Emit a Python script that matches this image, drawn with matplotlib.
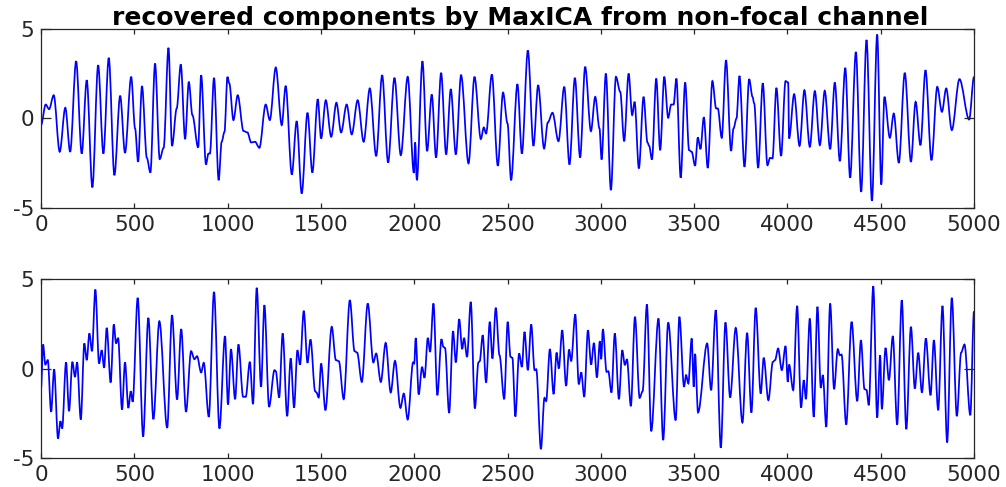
import matplotlib
matplotlib.use("Agg")
import matplotlib.pyplot as plt
from matplotlib.path import Path
from matplotlib.patches import PathPatch

plt.rcParams["axes.unicode_minus"] = False

# peaks / troughs of the two recovered components (sample index, amplitude)
top_x = [0, 25, 43, 68, 100, 130, 156, 188, 218, 245,
         275, 306, 334, 363, 393, 424, 450, 483, 504, 520,
         541, 567, 586, 611, 636, 657, 683, 702, 727, 749,
         772, 792, 811, 842, 858, 884, 897, 905, 927, 952,
         968, 983, 999, 1009, 1031, 1054, 1085, 1106, 1126, 1147,
         1170, 1204, 1226, 1258, 1290, 1311, 1344, 1370, 1397, 1428,
         1454, 1483, 1501, 1526, 1555, 1583, 1608, 1638, 1665, 1697,
         1729, 1762, 1796, 1828, 1860, 1894, 1928, 1965, 1998, 2005,
         2014, 2044, 2069, 2094, 2117, 2144, 2171, 2196, 2223, 2251,
         2291, 2323, 2357, 2373, 2385, 2416, 2448, 2476, 2500, 2519,
         2553, 2577, 2609, 2639, 2664, 2696, 2716, 2741, 2773, 2804,
         2832, 2861, 2889, 2916, 2947, 2970, 2993, 3004, 3027, 3054,
         3081, 3104, 3125, 3149, 3168, 3181, 3204, 3229, 3250, 3259,
         3274, 3297, 3318, 3340, 3361, 3377, 3390, 3405, 3428, 3452,
         3473, 3487, 3505, 3520, 3534, 3552, 3573, 3598, 3618, 3627,
         3648, 3671, 3698, 3711, 3727, 3743, 3770, 3795, 3813, 3822,
         3843, 3868, 3893, 3907, 3920, 3941, 3966, 3990, 4004, 4009,
         4036, 4065, 4091, 4120, 4147, 4174, 4200, 4229, 4254, 4281,
         4310, 4336, 4367, 4395, 4424, 4453, 4481, 4503, 4520, 4549,
         4570, 4597, 4629, 4662, 4687, 4713, 4740, 4772, 4803, 4828,
         4851, 4881, 4922, 4974, 5000]
top_y = [-0.37, 0.78, 0.52, 1.30, -1.86, 0.60, -1.86, 3.20, -1.96, 2.14,
         -3.85, 2.98, -1.96, 3.39, -3.17, 1.27, -1.92, 2.33, -0.56, -2.42,
         1.81, -2.20, -3.02, 3.07, -2.27, -1.64, 3.95, -1.53, 0.56, 3.02,
         -1.15, 2.05, 0.19, -1.62, 2.42, -2.57, -1.96, -1.96, 2.27, -3.45,
         -1.30, -0.75, 2.33, 1.96, -0.09, 1.30, -0.70, -0.78, -1.34, -1.30,
         -1.64, 0.78, -0.09, 2.85, -0.37, 1.82, -3.13, -0.15, -4.19, 0.32,
         -3.02, 1.08, -1.12, 1.02, -1.02, 0.88, -0.78, 0.78, -0.89, 1.02,
         -1.30, 1.68, -2.10, 2.42, -2.46, 2.27, -2.05, 2.33, -3.04, -1.34,
         -3.45, 3.20, -1.82, 1.34, -2.18, 2.55, -2.01, 1.64, -2.01, 2.42,
         -2.51, 2.33, -1.15, -0.50, -0.84, 2.46, -2.64, 1.45, -0.28, -3.45,
         1.92, -1.96, 3.80, -1.53, 1.86, -1.68, -0.22, 0.32, -1.27, 1.77,
         -2.57, 2.27, -2.18, 2.89, -0.71, 1.21, -0.56, -2.29, 2.51, -4.00,
         2.33, 1.49, -1.27, 2.51, 0.19, 0.93, -2.79, 1.21, -1.34, -1.53,
         -2.29, 2.23, -1.77, 2.33, 0.04, 0.78, 0.78, 2.23, -3.31, 2.01,
         -1.77, -1.86, -2.64, -1.06, -1.71, 0.07, -2.76, 2.09, 0.56, 0.56,
         -1.08, 3.26, -1.81, -0.56, 0.00, 2.38, -2.70, 2.20, 1.21, 0.84,
         -2.76, 1.97, -2.61, -2.20, -2.23, 1.71, -2.09, 2.09, 2.01, -1.12,
         1.36, -1.53, 1.58, -1.58, 1.53, -1.49, 1.55, -1.71, 2.01, -2.38,
         2.83, -3.31, 3.72, -4.10, 4.39, -4.60, 4.69, -3.69, 1.21, -1.08,
         0.28, -2.48, 2.55, -2.42, 0.93, -1.49, 2.70, -2.33, 1.77, 0.37,
         1.68, -0.65, 2.20, -0.06, 2.33]

bot_x = [0, 11, 23, 36, 54, 70, 91, 104, 113, 134,
         150, 168, 182, 193, 213, 232, 245, 259, 273, 291,
         311, 325, 338, 352, 373, 390, 402, 413, 434, 450,
         468, 481, 491, 518, 547, 575, 602, 634, 676, 702,
         729, 751, 777, 804, 822, 836, 858, 872, 899, 927,
         956, 986, 1002, 1018, 1040, 1058, 1083, 1097, 1119, 1136,
         1156, 1179, 1197, 1222, 1251, 1258, 1276, 1295, 1319, 1338,
         1356, 1374, 1388, 1408, 1428, 1444, 1469, 1476, 1488, 1501,
         1524, 1558, 1580, 1596, 1622, 1655, 1680, 1694, 1719, 1751,
         1781, 1796, 1821, 1847, 1874, 1897, 1926, 1944, 1965, 1994,
         2000, 2008, 2024, 2042, 2055, 2073, 2085, 2103, 2124, 2146,
         2156, 2165, 2187, 2208, 2223, 2241, 2257, 2267, 2283, 2303,
         2325, 2344, 2351, 2367, 2385, 2405, 2419, 2437, 2457, 2482,
         2501, 2516, 2526, 2542, 2562, 2577, 2591, 2609, 2627, 2645,
         2654, 2679, 2698, 2707, 2727, 2747, 2763, 2775, 2793, 2814,
         2830, 2841, 2863, 2882, 2895, 2911, 2931, 2948, 2963, 2979,
         2995, 3002, 3011, 3031, 3040, 3057, 3075, 3097, 3115, 3129,
         3140, 3161, 3183, 3208, 3224, 3247, 3270, 3309, 3334, 3361,
         3401, 3421, 3446, 3457, 3469, 3487, 3498, 3505, 3521, 3570,
         3591, 3616, 3643, 3668, 3693, 3723, 3759, 3784, 3807, 3830,
         3857, 3873, 3898, 3922, 3934, 3950, 3970, 3990, 4002, 4009,
         4031, 4052, 4073, 4088, 4099, 4120, 4141, 4161, 4179, 4190,
         4208, 4229, 4250, 4270, 4281, 4290, 4315, 4344, 4374, 4394,
         4413, 4424, 4436, 4460, 4481, 4497, 4506, 4526, 4544, 4565,
         4588, 4613, 4637, 4662, 4683, 4701, 4721, 4742, 4767, 4785,
         4808, 4831, 4856, 4881, 4908, 4931, 4949, 4980, 5000]
bot_y = [-1.12, 1.34, 0.22, 0.47, -2.42, -0.04, -3.91, -2.94, -3.35, 0.34,
         -2.38, 0.37, -0.47, 0.34, -2.85, 1.40, 0.47, 1.96, 0.97, 4.41,
         0.28, 1.02, 0.04, 2.27, -0.78, 2.46, 1.40, 1.71, -2.29, 0.34,
         -2.20, -1.27, -1.86, 3.95, -3.80, 2.83, -2.83, 2.64, -3.31, 2.98,
         -1.73, 2.20, -2.42, 0.97, 0.52, 0.69, -0.22, 0.32, -2.70, 4.28,
         -3.35, 1.81, -2.01, 1.08, -1.71, 1.34, -1.58, -1.58, 0.37, -1.99,
         4.51, -1.02, 3.54, -2.14, -0.09, -0.15, -1.62, 1.96, -2.66, 0.56,
         -2.18, 1.02, 0.22, 3.22, 0.32, 1.62, -1.27, -1.34, -1.62, 0.28,
         -2.33, 2.33, 0.47, 0.41, -1.71, 3.82, 0.97, 0.89, -0.75, 3.63,
         0.34, 0.84, -0.75, 1.43, -1.34, 0.43, -2.20, -1.40, -2.85, 0.34,
         0.28, 1.71, -1.45, 0.09, -0.52, 1.71, 0.93, 3.63, -1.49, 1.64,
         1.21, 1.15, -2.48, 2.09, 0.34, 2.76, 1.08, 1.71, 0.65, 3.72,
         -2.23, 0.34, 0.41, 1.86, -0.78, 2.61, 0.56, 3.39, 0.74, -1.71,
         2.61, 0.65, 0.60, -2.68, 0.84, 0.09, 2.05, -0.09, 2.46, -0.09,
         -0.04, -4.50, -1.64, -1.82, 1.08, -1.43, 0.89, 0.00, 2.14, -0.97,
         1.06, 0.41, 3.02, -0.88, -0.22, -1.58, 2.14, 0.22, 1.43, -0.50,
         1.53, 0.52, 2.20, -0.19, -0.15, -1.34, 1.96, -1.71, 1.02, 0.19,
         0.52, -2.10, 2.89, -1.64, -1.27, 3.58, -3.50, 2.79, -4.00, 2.57,
         -2.89, 2.89, -1.02, -0.37, -0.84, 1.68, -1.02, 0.82, -2.46, 1.40,
         -1.21, 3.26, -4.43, 2.57, -1.62, 2.27, -3.02, 1.99, -2.46, 3.39,
         -1.40, 0.60, -1.77, 0.37, 0.47, 1.12, -0.09, 1.25, -0.75, 0.22,
         -1.21, 3.50, -2.18, -0.65, -1.71, 2.79, -2.70, 3.45, -1.08, -0.37,
         -3.26, 3.63, -1.15, 1.08, 0.74, 0.78, -3.13, 2.61, -1.82, 1.58,
         -1.15, -1.20, -2.05, 4.60, -2.74, 0.74, -2.27, 1.15, -0.65, 1.81,
         -3.13, 3.82, -3.39, 2.33, -1.12, 0.88, -1.34, 1.68, -1.49, 1.58,
         -2.33, 3.50, -4.13, 3.95, -2.66, 0.89, 1.34, -2.61, 3.20]

x_ticks = list(range(0, 5001, 500))
y_ticks = [-5, 0, 5]
title = "recovered components by MaxICA from non-focal channel"


def smooth_trace(ax, xs, ys, **kw):
    # join the extrema with cubic segments that are flat at each turning point
    verts = [(xs[0], ys[0])]
    codes = [Path.MOVETO]
    for i in range(len(xs) - 1):
        dx = (xs[i + 1] - xs[i]) / 3.0
        verts += [(xs[i] + dx, ys[i]), (xs[i + 1] - dx, ys[i + 1]),
                  (xs[i + 1], ys[i + 1])]
        codes += [Path.CURVE4] * 3
    ax.add_patch(PathPatch(Path(verts, codes), fill=False, **kw))


def style_axis(ax):
    ax.set_xlim(0, 5000)
    ax.set_ylim(-5, 5)
    ax.set_xticks(x_ticks)
    ax.set_yticks(y_ticks)
    ax.tick_params(axis="both", direction="in", top=True, right=True,
                   labelsize=15.5, colors="#262626", pad=5)
    ax.tick_params(axis="x", length=3.6, width=0.9)
    ax.tick_params(axis="y", length=7.2, width=0.9)
    for sp in ax.spines.values():
        sp.set_color("#262626")
        sp.set_linewidth(0.9)


def main():
    fig = plt.figure(figsize=(10.06, 4.87), dpi=100)
    ax1 = fig.add_axes([0.0408, 0.5729, 0.9274, 0.3676])
    ax2 = fig.add_axes([0.0408, 0.0595, 0.9274, 0.3676])

    smooth_trace(ax1, top_x, top_y, edgecolor="#0000ff", linewidth=1.25)
    smooth_trace(ax2, bot_x, bot_y, edgecolor="#0000ff", linewidth=1.25)

    for ax in (ax1, ax2):
        style_axis(ax)

    ax1.set_title(title, fontsize=18, fontweight="bold", pad=3, x=0.514)

    fig.savefig("out.png", dpi=100)


if __name__ == '__main__':
    main()
